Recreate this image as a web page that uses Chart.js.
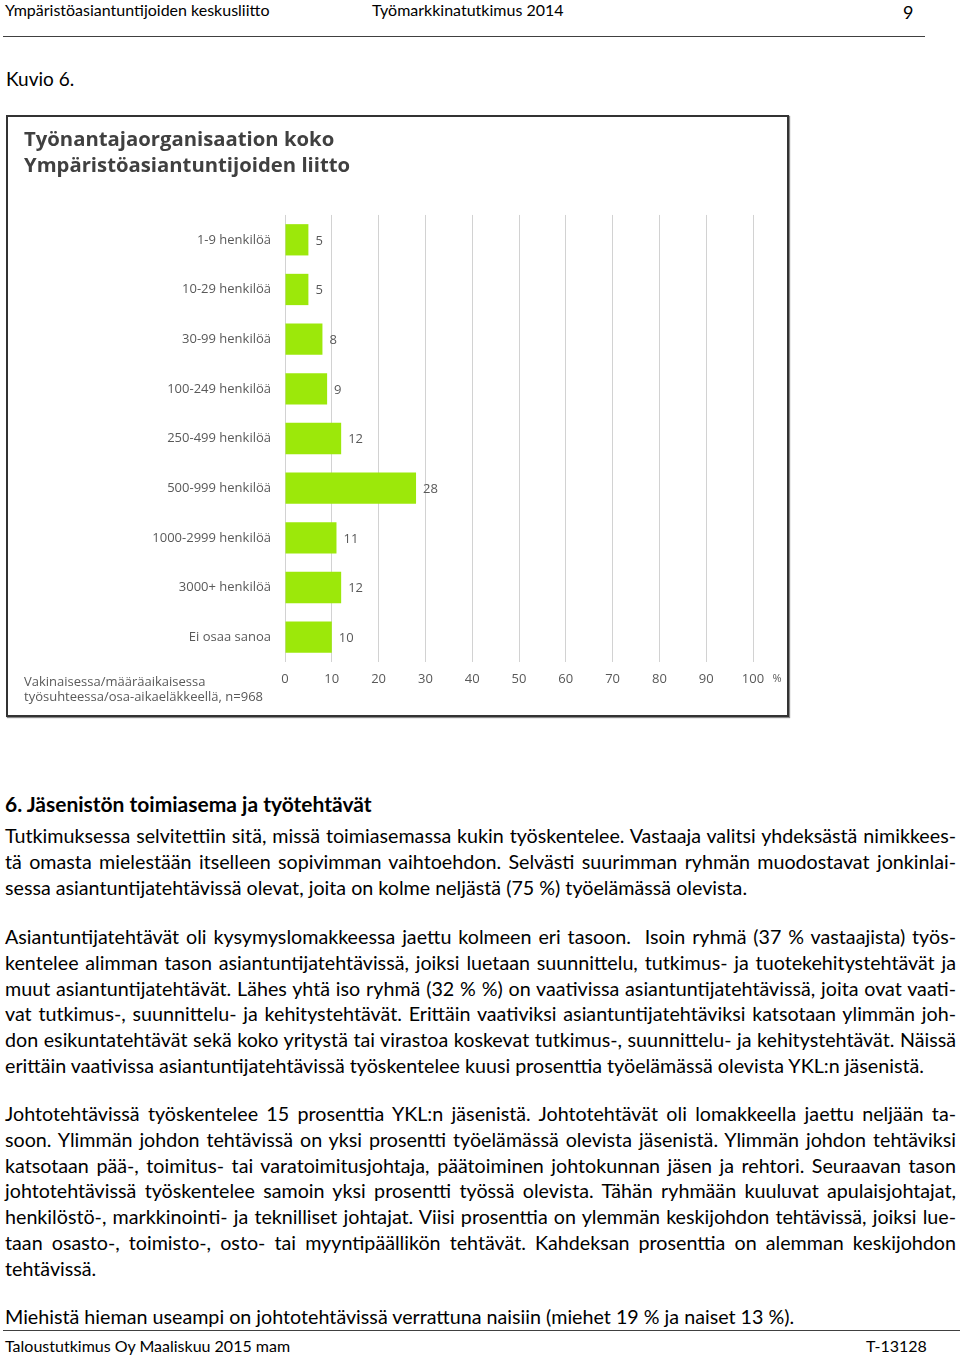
<!DOCTYPE html>
<html lang="fi">
<head>
<meta charset="utf-8">
<script src="https://cdn.jsdelivr.net/npm/chart.js@4.4.1/dist/chart.umd.min.js"></script>
<style>
  html, body { margin: 0; padding: 0; background: #fff; }
  body { width: 960px; height: 1357px; position: relative; overflow: hidden;
         font-family: 'Lato', 'Liberation Sans', sans-serif; color: #000; }
  .abs { position: absolute; white-space: nowrap; }
  .hdr { font-size: 16px; line-height: 19px; }
  .rule { position: absolute; height: 0; border-top: 1.5px solid #404040; }
  .para { position: absolute; left: 5px; width: 951px; font-size: 19.7px; line-height: 25.8px; }
  .para div { white-space: nowrap; text-align: justify; text-align-last: justify; }
  .para div.last { text-align-last: left; }
  #box { position: absolute; left: 6px; top: 115px; width: 779px; height: 598px;
         border: 2px solid #333; box-shadow: 1px 1px 1px #888; }
  #wrap { position: absolute; left: 9px; top: 118px; width: 777px; height: 596px; }
</style>
</head>
<body>
<div class="abs hdr" style="left:5px; top:0px;">Ympäristöasiantuntijoiden keskusliitto</div>
<div class="abs hdr" style="left:372px; top:0px;">Työmarkkinatutkimus 2014</div>
<div class="abs" style="left:903px; top:1px; font-size:18px; line-height:22px;">9</div>
<div class="rule" style="left:3px; top:36px; width:922px;"></div>

<div class="abs" style="left:6px; top:67px; font-size:19px; line-height:24px;">Kuvio 6.</div>

<div id="box"></div>
<div id="wrap"><canvas id="barChart"></canvas></div>

<div class="abs" style="left:5px; top:791px; font-size:21px; line-height:26px; font-weight:700;">6. Jäsenistön toimiasema ja työtehtävät</div>

<div class="para" style="top:823px;">
  <div>Tutkimuksessa selvitettiin sitä, missä toimiasemassa kukin työskentelee. Vastaaja valitsi yhdeksästä nimikkees-</div>
  <div>tä omasta mielestään itselleen sopivimman vaihtoehdon. Selvästi suurimman ryhmän muodostavat jonkinlai-</div>
  <div class="last">sessa asiantuntijatehtävissä olevat, joita on kolme neljästä (75 %) työelämässä olevista.</div>
</div>

<div class="para" style="top:924px;">
  <div>Asiantuntijatehtävät oli kysymyslomakkeessa jaettu kolmeen eri tasoon.&nbsp; Isoin ryhmä (37 % vastaajista) työs-</div>
  <div>kentelee alimman tason asiantuntijatehtävissä, joiksi luetaan suunnittelu, tutkimus- ja tuotekehitystehtävät ja</div>
  <div>muut asiantuntijatehtävät. Lähes yhtä iso ryhmä (32 % %) on vaativissa asiantuntijatehtävissä, joita ovat vaati-</div>
  <div>vat tutkimus-, suunnittelu- ja kehitystehtävät. Erittäin vaativiksi asiantuntijatehtäviksi katsotaan ylimmän joh-</div>
  <div>don esikuntatehtävät sekä koko yritystä tai virastoa koskevat tutkimus-, suunnittelu- ja kehitystehtävät. Näissä</div>
  <div class="last">erittäin vaativissa asiantuntijatehtävissä työskentelee kuusi prosenttia työelämässä olevista YKL:n jäsenistä.</div>
</div>

<div class="para" style="top:1101px;">
  <div>Johtotehtävissä työskentelee 15 prosenttia YKL:n jäsenistä. Johtotehtävät oli lomakkeella jaettu neljään ta-</div>
  <div>soon. Ylimmän johdon tehtävissä on yksi prosentti työelämässä olevista jäsenistä. Ylimmän johdon tehtäviksi</div>
  <div>katsotaan pää-, toimitus- tai varatoimitusjohtaja, päätoiminen johtokunnan jäsen ja rehtori. Seuraavan tason</div>
  <div>johtotehtävissä työskentelee samoin yksi prosentti työssä olevista. Tähän ryhmään kuuluvat apulaisjohtajat,</div>
  <div>henkilöstö-, markkinointi- ja teknilliset johtajat. Viisi prosenttia on ylemmän keskijohdon tehtävissä, joiksi lue-</div>
  <div>taan osasto-, toimisto-, osto- tai myyntipäällikön tehtävät. Kahdeksan prosenttia on alemman keskijohdon</div>
  <div class="last">tehtävissä.</div>
</div>

<div class="para" style="top:1304px;">
  <div class="last">Miehistä hieman useampi on johtotehtävissä verrattuna naisiin (miehet 19 % ja naiset 13 %).</div>
</div>

<div class="rule" style="left:3px; top:1330px; width:957px;"></div>
<div class="abs hdr" style="left:5px; top:1336px;">Taloustutkimus Oy Maaliskuu 2015 mam</div>
<div class="abs hdr" style="left:866px; top:1336px;">T-13128</div>

<script>
// fit the justified body lines to the column width
(function () {
  const lines = document.querySelectorAll('.para div');
  let worst = 1;
  lines.forEach(el => {
    const s = document.createElement('span');
    s.textContent = el.textContent;
    s.style.whiteSpace = 'nowrap';
    s.style.font = getComputedStyle(el).font;
    s.style.position = 'absolute';
    s.style.visibility = 'hidden';
    document.body.appendChild(s);
    const w = s.getBoundingClientRect().width;
    document.body.removeChild(s);
    worst = Math.max(worst, w / 948);
  });
  if (worst > 1) {
    document.querySelectorAll('.para').forEach(p => {
      p.style.fontSize = (19.7 / worst).toFixed(2) + 'px';
    });
  }
})();

const categories = [
  '1-9 henkilöä', '10-29 henkilöä', '30-99 henkilöä', '100-249 henkilöä',
  '250-499 henkilöä', '500-999 henkilöä', '1000-2999 henkilöä',
  '3000+ henkilöä', 'Ei osaa sanoa'
];
const shares = [5, 5, 8, 9, 12, 28, 11, 12, 10];
const xTicks = [0, 10, 20, 30, 40, 50, 60, 70, 80, 90, 100];
const chartTitle = ['Työnantajaorganisaation koko', 'Ympäristöasiantuntijoiden liitto'];
const footnote = ['Vakinaisessa/määräaikaisessa', 'työsuhteessa/osa-aikaeläkkeellä, n=968'];

const labelColor = '#595959';
const tickFont = { family: "'Open Sans', 'Noto Sans', sans-serif", size: 13 };

// value labels at the end of each bar, plus the % sign and the footnote
const extrasPlugin = {
  id: 'extras',
  afterDatasetsDraw(chart) {
    const ctx = chart.ctx;
    const meta = chart.getDatasetMeta(0);
    ctx.save();
    ctx.font = "13px 'Open Sans', 'Noto Sans', sans-serif";
    ctx.fillStyle = labelColor;
    ctx.textAlign = 'left';
    ctx.textBaseline = 'middle';
    meta.data.forEach((bar, i) => {
      ctx.fillText(String(shares[i]), bar.x + 7, bar.y + 1);
    });

    const xs = chart.scales.x;
    const yTick = chart.chartArea.bottom + 18;
    ctx.font = "11px 'Open Sans', 'Noto Sans', sans-serif";
    ctx.textAlign = 'center';
    ctx.fillText('%', xs.getPixelForValue(100) + 24, yTick - 1);

    ctx.font = "13px 'Open Sans', 'Noto Sans', sans-serif";
    ctx.textAlign = 'left';
    ctx.fillText(footnote[0], 15, yTick + 2);
    ctx.fillText(footnote[1], 15, yTick + 17);
    ctx.restore();
  }
};

window.addEventListener('DOMContentLoaded', () => {
  const ctx = document.getElementById('barChart').getContext('2d');

  const data = {
    labels: categories,
    datasets: [{
      data: shares,
      backgroundColor: '#9ce80a',
      borderWidth: 0,
      barPercentage: 0.63,
      categoryPercentage: 1
    }]
  };

  const config = {
    type: 'bar',
    data: data,
    plugins: [extrasPlugin],
    options: {
      indexAxis: 'y',
      responsive: true,
      maintainAspectRatio: false,
      animation: false,
      layout: { padding: { left: 15, right: 33, top: 0, bottom: 0 } },
      scales: {
        x: {
          min: 0,
          max: 100,
          afterBuildTicks: scale => { scale.ticks = xTicks.map(v => ({ value: v })); },
          afterFit: scale => { scale.height = 52; },
          grid: { color: '#d2d2d2', lineWidth: 1, drawTicks: false },
          border: { display: false },
          ticks: { color: labelColor, font: tickFont, padding: 9, maxRotation: 0 }
        },
        y: {
          afterFit: scale => { scale.width = 261; },
          grid: { display: false, drawTicks: false },
          border: { display: false },
          ticks: { color: labelColor, font: tickFont, padding: 14 }
        }
      },
      plugins: {
        legend: { display: false },
        tooltip: { enabled: false },
        title: {
          display: true,
          text: chartTitle,
          align: 'start',
          color: '#404040',
          font: { family: "'Open Sans', sans-serif", size: 20.3, weight: 'bold', lineHeight: 1.28 },
          padding: { top: 9, bottom: 36 }
        }
      }
    }
  };

  new Chart(ctx, config);
});
</script>
</body>
</html>
